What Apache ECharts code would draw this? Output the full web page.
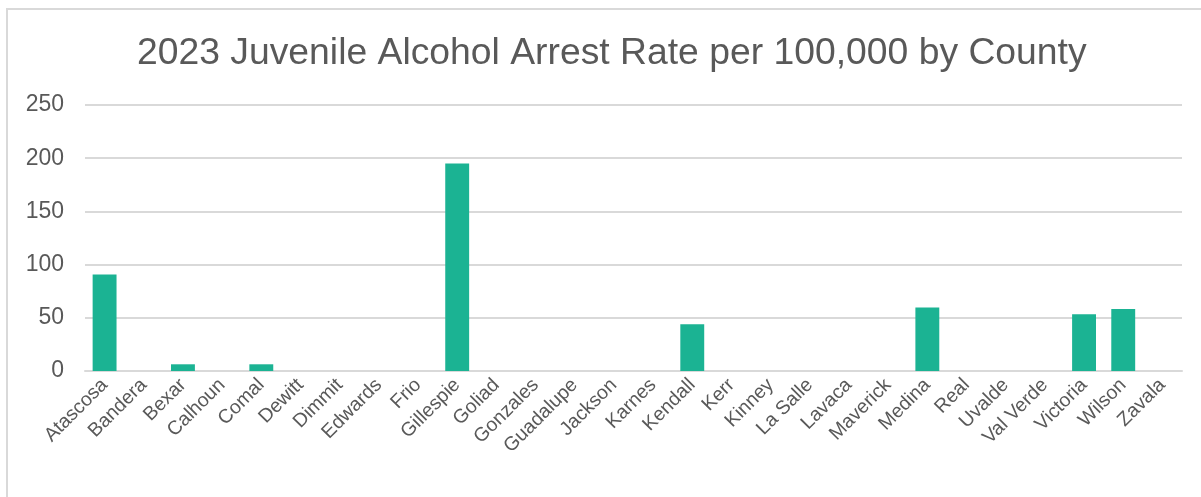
<!DOCTYPE html>
<html>
<head>
<meta charset="utf-8">
<script src="https://cdn.jsdelivr.net/npm/echarts@6/dist/echarts.min.js"></script>
<style>
  html, body { margin: 0; padding: 0; background: #fff; }
  #chart { width: 1201px; height: 497px; }
</style>
</head>
<body>
<div id="chart"></div>
<script>
// County names along the x axis
const counties = [
  'Atascosa', 'Bandera', 'Bexar', 'Calhoun', 'Comal', 'Dewitt', 'Dimmit',
  'Edwards', 'Frio', 'Gillespie', 'Goliad', 'Gonzales', 'Guadalupe', 'Jackson',
  'Karnes', 'Kendall', 'Kerr', 'Kinney', 'La Salle', 'Lavaca', 'Maverick',
  'Medina', 'Real', 'Uvalde', 'Val Verde', 'Victoria', 'Wilson', 'Zavala'
];

// Juvenile alcohol arrests per 100,000, 2023
const arrestRates = [
  90.6, 0, 6.3, 0, 6.3, 0, 0,
  0, 0, 195, 0, 0, 0, 0,
  0, 43.9, 0, 0, 0, 0, 0,
  59.6, 0, 0, 0, 53.3, 58.3, 0
];

// Value axis ticks
const yTicks = [0, 50, 100, 150, 200, 250];

const chart = echarts.init(document.getElementById('chart'));
chart.setOption({
  animation: false,
  backgroundColor: '#ffffff',
  textStyle: { fontFamily: 'Liberation Sans, Arial, sans-serif' },
  title: {
    text: '2023 Juvenile Alcohol Arrest Rate per 100,000 by County',
    left: 132,
    top: 30,
    textStyle: {
      color: '#595959',
      fontSize: 37.3,
      fontWeight: 'normal',
      fontFamily: 'Liberation Sans, Arial, sans-serif'
    }
  },
  graphic: [{
    type: 'rect',
    shape: { x: 7, y: 9, width: 1210, height: 510 },
    style: { fill: 'none', stroke: '#d9d9d9', lineWidth: 2 },
    silent: true,
    z: -1
  }],
  grid: { left: 85, right: 19, top: 105, bottom: 126, containLabel: false },
  xAxis: {
    type: 'category',
    data: counties,
    axisLine: { show: true, lineStyle: { color: '#d9d9d9', width: 2 } },
    axisTick: { show: false },
    axisLabel: {
      interval: 0,
      rotate: 45,
      color: '#595959',
      fontSize: 19.5,
      margin: 11
    }
  },
  yAxis: {
    type: 'value',
    min: yTicks[0],
    max: yTicks[yTicks.length - 1],
    interval: yTicks[1] - yTicks[0],
    axisLine: { show: false },
    axisTick: { show: false },
    axisLabel: { color: '#595959', fontSize: 23, margin: 21 },
    splitLine: { lineStyle: { color: '#d9d9d9', width: 2 } }
  },
  series: [{
    type: 'bar',
    data: arrestRates,
    barCategoryGap: '39%',
    itemStyle: { color: '#1bb393', borderWidth: 0 }
  }]
});
</script>
</body>
</html>
